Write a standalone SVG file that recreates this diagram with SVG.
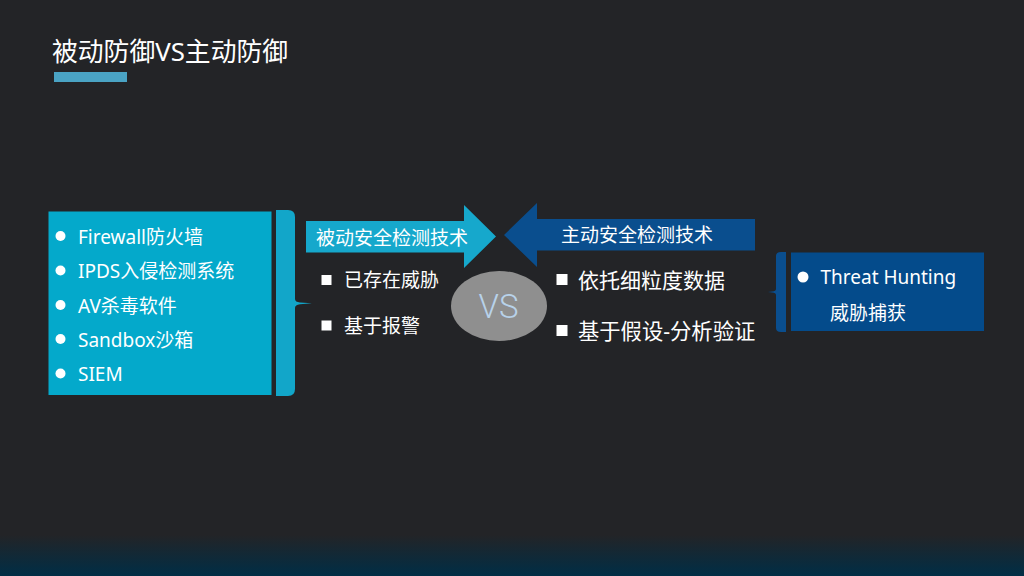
<svg xmlns="http://www.w3.org/2000/svg" width="1024" height="576" viewBox="0 0 1024 576">
<defs>
<linearGradient id="bgfade" x1="0" y1="0" x2="0" y2="1">
<stop offset="0" stop-color="#232427"/>
<stop offset="1" stop-color="#002e46"/>
</linearGradient>
<style>
.t{font-family:"Noto Sans","Noto Sans CJK SC",sans-serif;fill:#ffffff;}
.cy{fill:#04a9cb;}
.cyb{fill:#12a6c9;}
.db{fill:#0a4e8e;}
.dbox{fill:#044b8b;}
.dot{fill:#ffffff;}
</style>
</defs>
<rect x="0" y="0" width="1024" height="576" fill="#232427"/>
<rect x="0" y="535" width="1024" height="41" fill="url(#bgfade)"/>

<g id="title">
<text class="t" x="52" y="60.5" font-size="25.8">被动防御VS主动防御</text>
<rect x="54" y="72" width="73" height="10" fill="#4aa3c4"/>
</g>

<g id="passive-list">
<rect class="cy" x="48.5" y="211.5" width="223" height="183.5"/>
<circle class="dot" cx="60.5" cy="236" r="5"/>
<circle class="dot" cx="60.5" cy="270.5" r="5"/>
<circle class="dot" cx="60.5" cy="305" r="5"/>
<circle class="dot" cx="60.5" cy="339" r="5"/>
<circle class="dot" cx="60.5" cy="373.5" r="5"/>
<text class="t" x="78" y="244" font-size="19">Firewall防火墙</text>
<text class="t" x="78" y="278" font-size="19">IPDS入侵检测系统</text>
<text class="t" x="78" y="312.5" font-size="19">AV杀毒软件</text>
<text class="t" x="78" y="347" font-size="19">Sandbox沙箱</text>
<text class="t" x="78" y="381" font-size="19">SIEM</text>
</g>

<g id="connectors">
<path class="cyb" d="M276,210 L288,210 Q295,210 295,217 L295,299 Q295,302 300,302.5 L312,303.3 L300,304.3 Q295,305 295,308 L295,389 Q295,396 288,396 L276,396 Z"/>
<path class="db" d="M786,252 L781,252 Q776,252 776,256 L776,289 Q776,291 772,291.5 L768,292 L772,292.6 Q776,293 776,295 L776,328 Q776,332 781,332 L786,332 Z"/>
</g>

<g id="passive-arrow">
<path fill="#16a8cc" d="M306,221 L464,221 L464,205 L496,236.5 L464,268 L464,252.5 L306,252.5 Z"/>
<text class="t" x="316" y="244.5" font-size="19">被动安全检测技术</text>
</g>

<g id="active-arrow">
<path class="db" d="M755,219 L537,219 L537,203 L504,235 L537,267 L537,250.5 L755,250.5 Z"/>
<text class="t" x="561" y="242" font-size="19">主动安全检测技术</text>
</g>

<g id="passive-points">
<rect class="dot" x="321.5" y="275" width="10" height="10"/>
<text class="t" x="344" y="287" font-size="19">已存在威胁</text>
<rect class="dot" x="321.5" y="320.5" width="10" height="10"/>
<text class="t" x="344" y="332.5" font-size="19">基于报警</text>
</g>

<g id="vs">
<ellipse cx="499" cy="306" rx="48" ry="35" fill="#8f8f8f"/>
<text x="498.5" y="318" font-size="33" text-anchor="middle" font-family="Roboto,'Liberation Sans',sans-serif" font-weight="300" fill="#b8d2ea">VS</text>
</g>

<g id="active-points">
<rect class="dot" x="556.5" y="274" width="11" height="11"/>
<text class="t" x="578" y="287.5" font-size="21">依托细粒度数据</text>
<rect class="dot" x="556.5" y="325" width="11" height="11"/>
<text class="t" x="578" y="338.5" font-size="21.3">基于假设-分析验证</text>
</g>

<g id="threat-hunting">
<rect class="dbox" x="791" y="252.5" width="193" height="78.5"/>
<circle class="dot" cx="803" cy="277" r="5.5"/>
<text class="t" x="820.5" y="283.5" font-size="19">Threat Hunting</text>
<text class="t" x="830" y="320" font-size="19">威胁捕获</text>
</g>
</svg>
